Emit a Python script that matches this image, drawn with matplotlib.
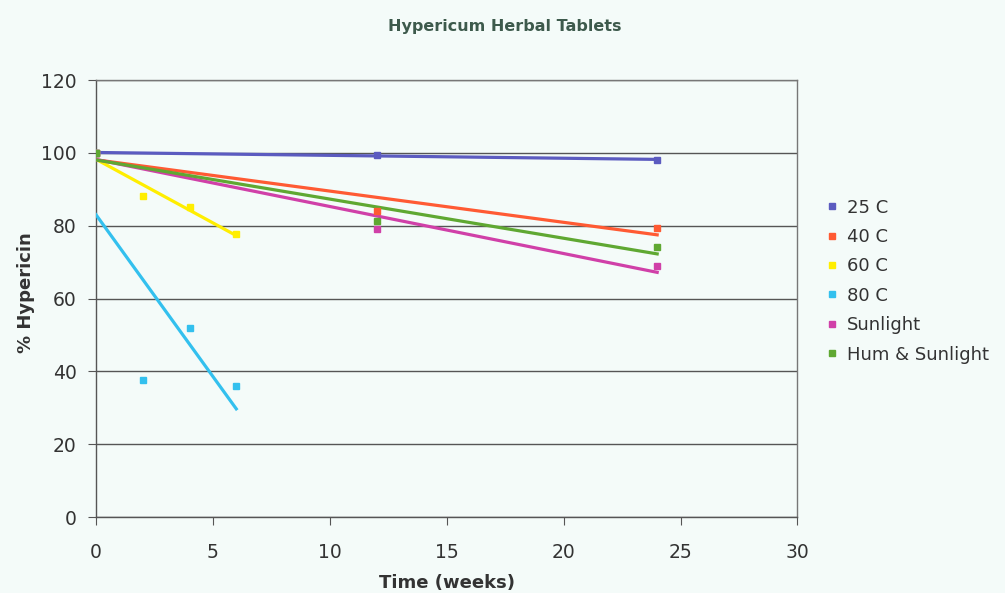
import numpy as np
import matplotlib.pyplot as plt

plt.rcParams['font.family'] = ['DejaVu Sans']

# data (weeks, % hypericin)
labels = ['25 C', '40 C', '60 C', '80 C', 'Sunlight', 'Hum & Sunlight']
colors = ['#5b5bc0', '#ff5a33', '#ffee00', '#33c0ee', '#d040a8', '#5fa832']
x_long = [0, 12, 24]
x_short = [0, 2, 4, 6]
y_25 = [100, 99.4, 98.1]
y_40 = [100, 84.0, 79.4]
y_60 = [100, 88.2, 85.2, 77.7]
y_80 = [100, 37.6, 51.9, 36.0]
y_sun = [100, 79.1, 69.0]
y_hum = [100, 81.3, 74.2]

series = [(x_long, y_25), (x_long, y_40), (x_short, y_60),
          (x_short, y_80), (x_long, y_sun), (x_long, y_hum)]

fig = plt.figure(figsize=(10.05, 5.93), dpi=100)
fig.patch.set_facecolor('#f4fbf9')
ax = fig.add_axes([0.0955, 0.128, 0.698, 0.737])
ax.set_facecolor('#f4fbf9')

for (xs, ys), c, lab in zip(series, colors, labels):
    xs = np.array(xs, dtype=float)
    ys = np.array(ys, dtype=float)
    ax.plot(xs, ys, linestyle='None', marker='s', markersize=5,
            color=c, label=lab, zorder=4)
    # linear trend line, as in the original spreadsheet
    k, b = np.polyfit(xs, ys, 1)
    xt = np.array([xs.min(), xs.max()])
    ax.plot(xt, k * xt + b, color=c, linewidth=2.3, zorder=3)

ax.set_xlim(0, 30)
ax.set_ylim(0, 120)
ax.set_xticks(range(0, 31, 5))
ax.set_yticks(range(0, 121, 20))
ax.yaxis.grid(True, color='#555555', linewidth=1.0)
ax.set_axisbelow(True)
for s in ax.spines.values():
    s.set_color('#777777')
    s.set_linewidth(1.0)
ax.spines['left'].set_color('#555555')
ax.spines['bottom'].set_color('#555555')
ax.tick_params(axis='both', labelsize=13.5, colors='#555555',
               direction='out', length=6, labelcolor='#333333')
ax.tick_params(axis='x', pad=13)
ax.tick_params(axis='y', pad=8)

ax.set_xlabel('Time (weeks)', fontsize=13, fontweight='bold', color='#333333', va='center')
ax.xaxis.set_label_coords(0.5, -0.151)
ax.set_ylabel('% Hypericin', fontsize=13, fontweight='bold', color='#333333', va='center')
ax.yaxis.set_label_coords(-0.1, 0.513)

fig.text(0.502, 0.955, 'Hypericum Herbal Tablets', ha='center', va='center',
         fontsize=11.5, fontweight='bold', color='#3d5a4c')

leg = ax.legend(loc='center left', bbox_to_anchor=(1.019, 0.54), frameon=False,
                fontsize=13, handlelength=0.6, handletextpad=0.5,
                labelspacing=0.63, markerscale=1.0)
for t in leg.get_texts():
    t.set_color('#333333')

fig.savefig('out.png', dpi=100, facecolor=fig.get_facecolor())
